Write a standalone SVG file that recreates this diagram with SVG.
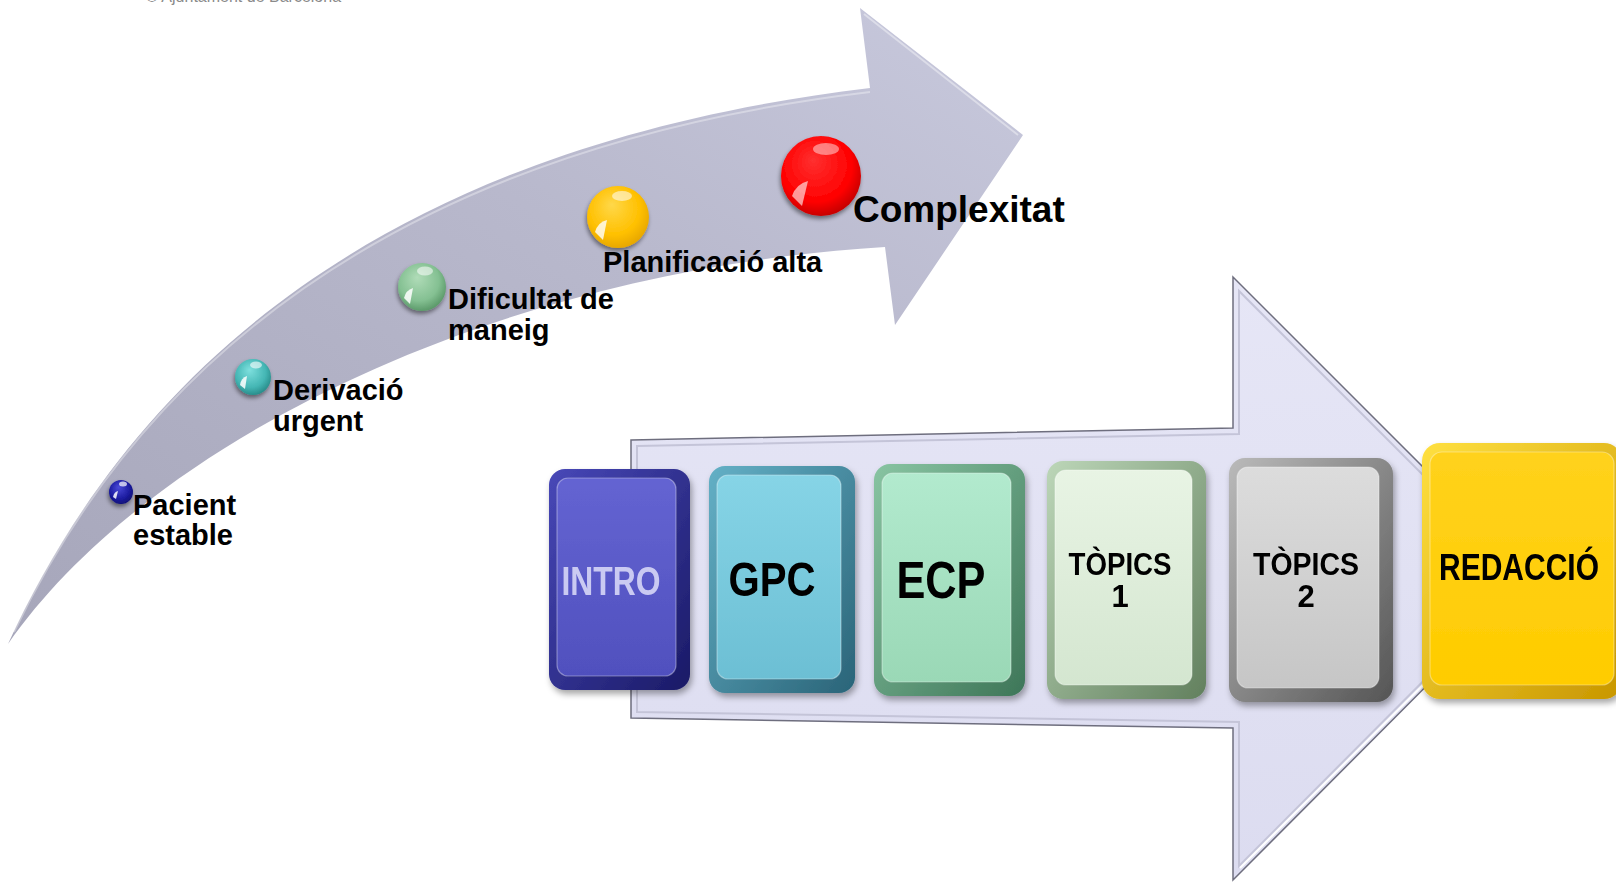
<svg xmlns="http://www.w3.org/2000/svg" width="1616" height="883" viewBox="0 0 1616 883">
<defs>
  <style>
    .lbl{font-family:"Liberation Sans",Arial,sans-serif;font-weight:bold;font-size:29px;fill:#000}
    .big{font-family:"Liberation Sans",Arial,sans-serif;font-weight:bold;font-size:37px;fill:#000}
    .box{font-family:"Liberation Sans Narrow","Liberation Sans",Arial,sans-serif;font-weight:bold;fill:#000;text-anchor:middle}
    .hl{fill:none;stroke:#fff;stroke-opacity:.35;stroke-width:1.2}
  </style>
  <linearGradient id="curveG" x1="0" y1="1" x2="1" y2="0">
    <stop offset="0" stop-color="#a6a6ba"/>
    <stop offset="0.6" stop-color="#b8b8cc"/>
    <stop offset="1" stop-color="#c8c9dd"/>
  </linearGradient>
  <linearGradient id="bigG" x1="0" y1="0" x2="0" y2="1">
    <stop offset="0" stop-color="#e6e6f6"/>
    <stop offset="1" stop-color="#dcdcf0"/>
  </linearGradient>
  <filter id="sh" x="-20%" y="-20%" width="140%" height="140%">
    <feDropShadow dx="2" dy="4" stdDeviation="3" flood-color="#000" flood-opacity="0.35"/>
  </filter>
  <filter id="bsh" x="-40%" y="-40%" width="180%" height="180%">
    <feDropShadow dx="-1" dy="3" stdDeviation="2" flood-color="#000" flood-opacity="0.45"/>
  </filter>
  <radialGradient id="bBlue" cx="0.45" cy="0.4" r="0.6" fx="0.4" fy="0.3">
    <stop offset="0" stop-color="#4a4ad8"/><stop offset="0.7" stop-color="#1c1ca0"/><stop offset="1" stop-color="#10107a"/>
  </radialGradient>
  <radialGradient id="bTeal" cx="0.45" cy="0.4" r="0.6" fx="0.4" fy="0.3">
    <stop offset="0" stop-color="#7ee0de"/><stop offset="0.7" stop-color="#44b6b4"/><stop offset="1" stop-color="#2a8e8c"/>
  </radialGradient>
  <radialGradient id="bGreen" cx="0.45" cy="0.4" r="0.6" fx="0.4" fy="0.3">
    <stop offset="0" stop-color="#b0dcb8"/><stop offset="0.7" stop-color="#84c092"/><stop offset="1" stop-color="#5c9a6a"/>
  </radialGradient>
  <radialGradient id="bGold" cx="0.45" cy="0.4" r="0.6" fx="0.4" fy="0.3">
    <stop offset="0" stop-color="#ffd84a"/><stop offset="0.7" stop-color="#ffc000"/><stop offset="1" stop-color="#e8a800"/>
  </radialGradient>
  <radialGradient id="bRed" cx="0.45" cy="0.4" r="0.6" fx="0.4" fy="0.3">
    <stop offset="0" stop-color="#ff3030"/><stop offset="0.75" stop-color="#ff0000"/><stop offset="1" stop-color="#c80000"/>
  </radialGradient>
  <linearGradient id="eIntro" x1="0" y1="0" x2="1" y2="1"><stop offset="0" stop-color="#4848b8"/><stop offset="1" stop-color="#1a1a66"/></linearGradient>
  <linearGradient id="fIntro" x1="0" y1="0" x2="0" y2="1"><stop offset="0" stop-color="#6464d2"/><stop offset="1" stop-color="#5050be"/></linearGradient>
  <linearGradient id="eGpc" x1="0" y1="0" x2="1" y2="1"><stop offset="0" stop-color="#64b0c6"/><stop offset="1" stop-color="#2a6478"/></linearGradient>
  <linearGradient id="fGpc" x1="0" y1="0" x2="0" y2="1"><stop offset="0" stop-color="#86d4e6"/><stop offset="1" stop-color="#6cbfd4"/></linearGradient>
  <linearGradient id="eEcp" x1="0" y1="0" x2="1" y2="1"><stop offset="0" stop-color="#88c4a2"/><stop offset="1" stop-color="#3e7658"/></linearGradient>
  <linearGradient id="fEcp" x1="0" y1="0" x2="0" y2="1"><stop offset="0" stop-color="#b2eace"/><stop offset="1" stop-color="#9ad8b6"/></linearGradient>
  <linearGradient id="eT1" x1="0" y1="0" x2="1" y2="1"><stop offset="0" stop-color="#bcd6b8"/><stop offset="1" stop-color="#62805e"/></linearGradient>
  <linearGradient id="fT1" x1="0" y1="0" x2="0" y2="1"><stop offset="0" stop-color="#e8f4e4"/><stop offset="1" stop-color="#d4e6d0"/></linearGradient>
  <linearGradient id="eT2" x1="0" y1="0" x2="1" y2="1"><stop offset="0" stop-color="#bababa"/><stop offset="1" stop-color="#555"/></linearGradient>
  <linearGradient id="fT2" x1="0" y1="0" x2="0" y2="1"><stop offset="0" stop-color="#dcdcdc"/><stop offset="1" stop-color="#c6c6c6"/></linearGradient>
  <linearGradient id="eRed" x1="0" y1="0" x2="1" y2="1"><stop offset="0" stop-color="#ffe040"/><stop offset="1" stop-color="#c89600"/></linearGradient>
  <linearGradient id="fRed" x1="0" y1="0" x2="0" y2="1"><stop offset="0" stop-color="#ffd21c"/><stop offset="1" stop-color="#ffcc00"/></linearGradient>
</defs>

<rect width="1616" height="883" fill="#fff"/>

<text x="146" y="2" font-family="Liberation Sans,Arial,sans-serif" font-size="16" fill="#8a8a8a">© Ajuntament de Barcelona</text>

<g id="curved-arrow">
  <path d="M 8 644 C 120 400, 350 150, 870 88 L 860 8 L 1023 135 L 895 325 L 885 247 C 500 270, 150 440, 8 644 Z" fill="url(#curveG)"/>
  <path d="M 14 632 C 124 402, 352 154, 870 92" fill="none" stroke="#fff" stroke-opacity="0.35" stroke-width="2"/>
  <path d="M 864 14 L 1018 135" fill="none" stroke="#fff" stroke-opacity="0.4" stroke-width="2"/>
</g>

<g id="node-pacient">
  <circle cx="121" cy="492" r="12" fill="url(#bBlue)" filter="url(#bsh)"/>
  <ellipse cx="123" cy="484" rx="4" ry="2.5" fill="#fff" fill-opacity="0.7"/>
  <path d="M 113 497 Q 114 492 118 491 L 116 499 Z" fill="#fff" fill-opacity="0.85"/>
  <text class="lbl" x="133" y="515">Pacient</text>
  <text class="lbl" x="133" y="545">estable</text>
</g>
<g id="node-derivacio">
  <circle cx="253" cy="377" r="18" fill="url(#bTeal)" filter="url(#bsh)"/>
  <ellipse cx="256" cy="365" rx="6" ry="3.5" fill="#fff" fill-opacity="0.6"/>
  <path d="M 240 385 Q 241 378 247 376 L 245 389 Z" fill="#fff" fill-opacity="0.85"/>
  <text class="lbl" x="273" y="400">Derivació</text>
  <text class="lbl" x="273" y="431">urgent</text>
</g>
<g id="node-dificultat">
  <circle cx="422" cy="287" r="24" fill="url(#bGreen)" filter="url(#bsh)"/>
  <ellipse cx="425" cy="271" rx="8" ry="4.5" fill="#fff" fill-opacity="0.55"/>
  <path d="M 404 298 Q 406 290 413 288 L 410 304 Z" fill="#fff" fill-opacity="0.85"/>
  <text class="lbl" x="448" y="309">Dificultat de</text>
  <text class="lbl" x="448" y="340">maneig</text>
</g>
<g id="node-planificacio">
  <circle cx="618" cy="217" r="31" fill="url(#bGold)" filter="url(#bsh)"/>
  <ellipse cx="622" cy="196" rx="10" ry="5" fill="#fff" fill-opacity="0.55"/>
  <path d="M 595 232 Q 598 222 607 220 L 603 240 Z" fill="#fff" fill-opacity="0.8"/>
  <text class="lbl" x="603" y="272">Planificació alta</text>
</g>
<g id="node-complexitat">
  <circle cx="821" cy="176" r="40" fill="url(#bRed)" filter="url(#bsh)"/>
  <ellipse cx="826" cy="149" rx="13" ry="6" fill="#fff" fill-opacity="0.45"/>
  <path d="M 792 196 Q 796 184 808 181 L 802 206 Z" fill="#fff" fill-opacity="0.6"/>
  <text class="big" x="853" y="222">Complexitat</text>
</g>

<g id="big-arrow">
  <path d="M 631 440 L 1233 428 L 1233 277 L 1534 578 L 1233 880 L 1233 728 L 631 718 Z" fill="url(#bigG)" stroke="#6e6e7e" stroke-width="1.5"/>
  <path d="M 637 446 L 1239 434 L 1239 291 L 1526 578 L 1239 866 L 1239 722 L 637 712 Z" fill="none" stroke="#c4c4d8" stroke-width="2"/>
  <path d="M 1240 868 L 1530 578" fill="none" stroke="#fff" stroke-width="2"/>
</g>

<g id="box-intro" filter="url(#sh)">
  <rect x="549" y="469" width="141" height="221" rx="16" fill="url(#eIntro)"/>
  <rect x="557" y="478" width="119" height="198" rx="11" fill="url(#fIntro)"/>
  <rect x="557" y="478" width="119" height="198" rx="11" class="hl"/>
  <text class="box" x="611" y="595" font-size="40" textLength="99" lengthAdjust="spacingAndGlyphs" style="fill:#cacaf2">INTRO</text>
</g>
<g id="box-gpc" filter="url(#sh)">
  <rect x="709" y="466" width="146" height="227" rx="16" fill="url(#eGpc)"/>
  <rect x="717" y="475" width="124" height="204" rx="11" fill="url(#fGpc)"/>
  <rect x="717" y="475" width="124" height="204" rx="11" class="hl"/>
  <text class="box" x="772" y="596" font-size="49" textLength="87" lengthAdjust="spacingAndGlyphs">GPC</text>
</g>
<g id="box-ecp" filter="url(#sh)">
  <rect x="874" y="464" width="151" height="232" rx="16" fill="url(#eEcp)"/>
  <rect x="882" y="473" width="129" height="209" rx="11" fill="url(#fEcp)"/>
  <rect x="882" y="473" width="129" height="209" rx="11" class="hl"/>
  <text class="box" x="941" y="598" font-size="51" textLength="89" lengthAdjust="spacingAndGlyphs">ECP</text>
</g>
<g id="box-topics1" filter="url(#sh)">
  <rect x="1047" y="461" width="159" height="238" rx="16" fill="url(#eT1)"/>
  <rect x="1055" y="470" width="137" height="215" rx="11" fill="url(#fT1)"/>
  <rect x="1055" y="470" width="137" height="215" rx="11" class="hl"/>
  <text class="box" x="1120" y="575" font-size="31" textLength="103" lengthAdjust="spacingAndGlyphs">TÒPICS</text>
  <text class="box" x="1120" y="607" font-size="31">1</text>
</g>
<g id="box-topics2" filter="url(#sh)">
  <rect x="1229" y="458" width="164" height="244" rx="16" fill="url(#eT2)"/>
  <rect x="1237" y="467" width="142" height="221" rx="11" fill="url(#fT2)"/>
  <rect x="1237" y="467" width="142" height="221" rx="11" class="hl"/>
  <text class="box" x="1306" y="575" font-size="31" textLength="106" lengthAdjust="spacingAndGlyphs">TÒPICS</text>
  <text class="box" x="1306" y="607" font-size="31">2</text>
</g>
<g id="box-redaccio" filter="url(#sh)">
  <rect x="1422" y="443" width="200" height="256" rx="18" fill="url(#eRed)"/>
  <rect x="1430" y="452" width="184" height="233" rx="12" fill="url(#fRed)"/>
  <rect x="1430" y="452" width="184" height="233" rx="12" class="hl"/>
  <text class="box" x="1519" y="580" font-size="37" textLength="160" lengthAdjust="spacingAndGlyphs">REDACCIÓ</text>
</g>
</svg>
